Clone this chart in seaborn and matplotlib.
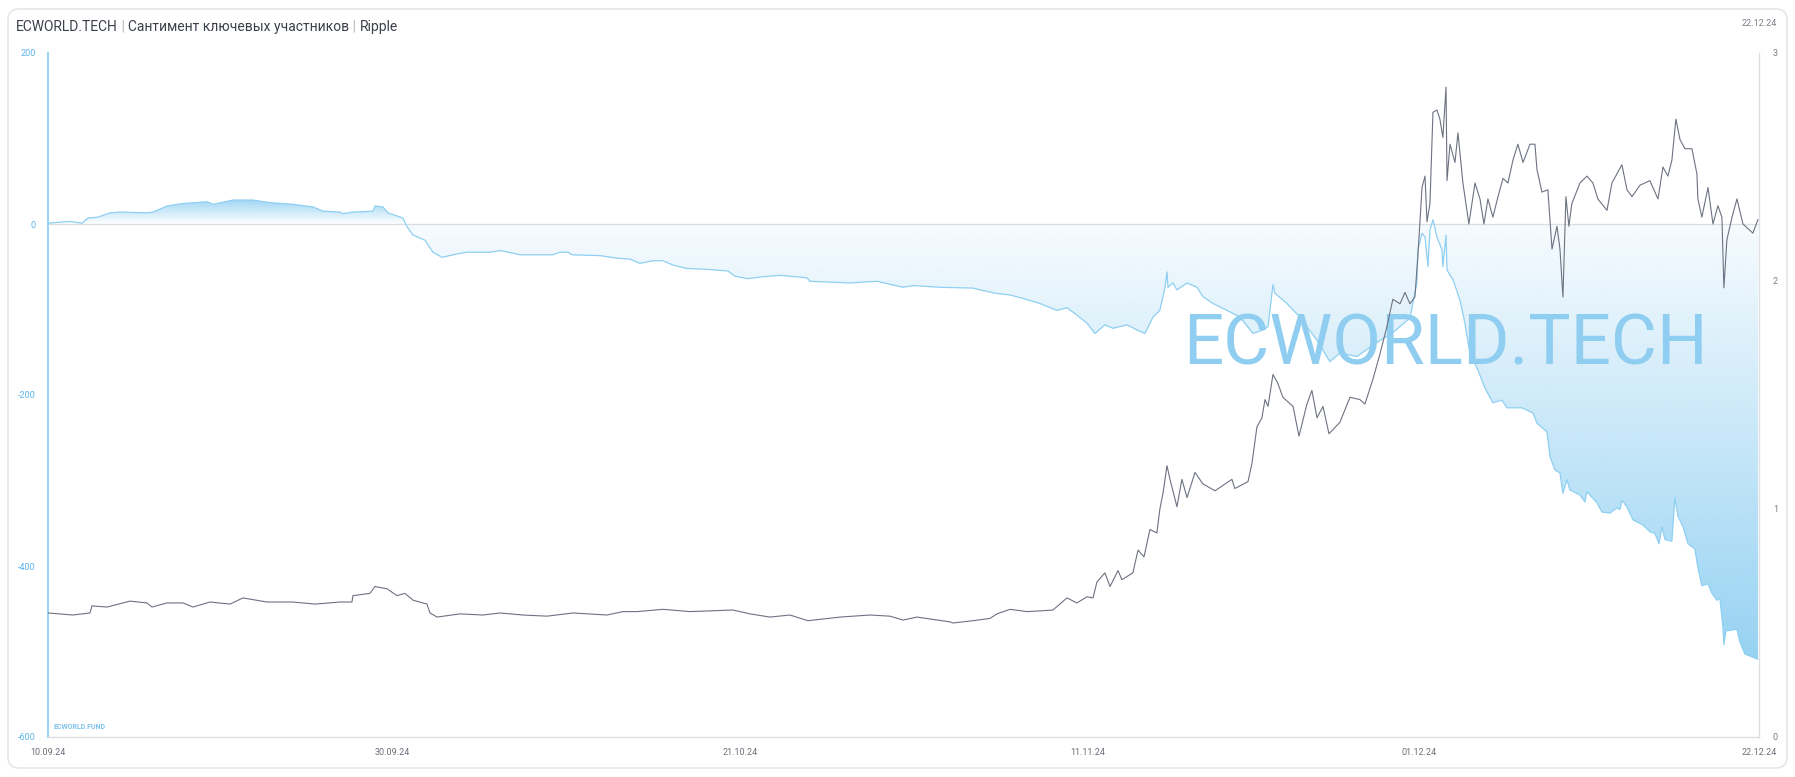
import numpy as np
import pandas as pd
import matplotlib
matplotlib.use('Agg')
import matplotlib.pyplot as plt
import matplotlib.dates as mdates
from matplotlib.patches import FancyBboxPatch
from matplotlib.transforms import IdentityTransform
import seaborn as sns

# days since 10.09.24 00:00 and the sentiment value
sent_days = [-0.79, 0.54, 1.27, 1.63, 2.23, 2.96, 3.56, 5.19, 5.56, 6.40, 7.37, 8.82, 9.18,
             10.39, 11.59, 12.62, 14.01, 15.22, 15.82, 16.85, 17.03, 17.63, 18.84, 18.96,
             19.44, 19.75, 20.65, 20.89, 21.26, 21.98, 22.46, 23.01, 23.91, 24.52, 25.91,
             26.51, 27.72, 29.71, 30.13, 30.62, 30.86, 32.55, 33.57, 34.36, 34.96, 35.75,
             36.35, 36.96, 37.80, 39.01, 40.28, 40.70, 41.49, 42.21, 43.42, 45.05, 45.23,
             47.64, 49.28, 50.85, 51.45, 53.08, 55.07, 56.40, 57.31, 58.09, 59.12, 60.14,
             60.75, 61.11, 61.96, 62.44, 63.04, 63.53, 64.37, 64.98, 65.46, 65.94, 66.36,
             66.67, 66.79, 66.85, 67.15, 67.39, 68.00, 68.60, 68.96, 69.57, 70.41, 71.20,
             71.98, 72.58, 72.89, 73.19, 73.31, 74.03, 74.82, 75.85, 76.63, 77.23, 78.26,
             79.35, 80.56, 81.46, 81.88, 81.94, 82.19, 82.37, 82.55, 82.67, 82.85, 83.09,
             83.39, 83.45, 83.64, 83.70, 84.06, 84.48, 84.78, 85.08, 85.57, 85.99, 86.47,
             87.02, 87.32, 88.22, 88.89, 89.13, 89.73, 89.92, 90.22, 90.52, 90.70, 90.94,
             91.12, 91.73, 92.03, 92.15, 92.75, 93.06, 93.54, 93.96, 94.14, 94.26, 94.57,
             94.93, 95.53, 95.95, 96.26, 96.50, 96.68, 96.86, 97.28, 97.46, 97.65, 97.95,
             98.25, 98.67, 98.85, 99.09, 99.46, 99.70, 100.00, 100.18, 100.36, 100.42,
             100.54, 101.21, 101.39, 101.69, 102.48]
sent_vals = [1, 3, 1, 7, 8, 13, 14, 13, 14, 21, 24, 26, 23,
             28, 28, 25, 23, 20, 15, 14, 12, 14, 15, 21,
             20, 13, 7, -3, -13, -19, -33, -39, -35, -33, -33,
             -31, -36, -36, -33, -33, -36, -37, -40, -41, -46, -43,
             -43, -48, -52, -53, -55, -61, -64, -62, -60, -63, -67,
             -69, -67, -74, -72, -74, -75, -81, -83, -87, -93, -101,
             -98, -103, -116, -128, -118, -122, -118, -124, -128, -109, -101,
             -74, -56, -74, -69, -77, -69, -74, -85, -93, -101, -109,
             -128, -124, -120, -71, -81, -93, -109, -136, -161, -151, -155,
             -140, -125, -110, -69, -30, -11, -15, -50, -7, 5, -15,
             -30, -50, -13, -54, -65, -89, -116, -151, -171, -192, -209,
             -206, -215, -215, -221, -233, -243, -272, -288, -291, -315, -299,
             -311, -317, -325, -313, -326, -337, -338, -332, -334, -323, -331,
             -346, -352, -360, -362, -374, -354, -369, -371, -320, -342, -354,
             -374, -380, -402, -423, -421, -432, -440, -438, -471, -492,
             -476, -474, -489, -503, -509]

# days since 10.09.24 00:00 and XRP price (right axis)
price_days = [-0.79, 0.72, 1.75, 1.87, 2.78, 4.17, 5.19, 5.50, 6.40, 7.37, 7.97, 9.00, 10.21,
              10.99, 12.44, 14.01, 15.34, 16.85, 17.57, 17.63, 18.66, 18.96, 19.69, 20.29,
              20.77, 21.26, 22.10, 22.28, 22.71, 24.09, 25.48, 26.51, 27.90, 29.35, 30.92,
              32.97, 33.94, 34.78, 36.35, 37.98, 40.58, 41.61, 42.81, 44.02, 45.11, 47.04,
              48.85, 50.06, 50.85, 51.69, 53.68, 53.86, 55.07, 56.10, 56.52, 57.31, 58.33,
              59.12, 59.90, 60.75, 61.35, 61.96, 62.32, 62.56, 63.04, 63.35, 63.83, 64.07,
              64.73, 65.04, 65.40, 65.76, 66.18, 66.36, 66.55, 66.79, 66.97, 67.39, 67.69,
              68.00, 68.48, 68.96, 69.69, 70.71, 70.89, 71.68, 71.92, 72.22, 72.52, 72.71,
              72.89, 73.19, 73.49, 73.79, 74.40, 74.76, 75.24, 75.54, 75.85, 76.21, 76.57,
              77.23, 77.84, 78.44, 78.74, 79.23, 79.65, 80.07, 80.43, 80.86, 81.16, 81.46,
              81.76, 81.94, 82.19, 82.37, 82.49, 82.67, 82.85, 83.09, 83.27, 83.45, 83.64,
              83.70, 83.88, 84.18, 84.36, 84.66, 85.02, 85.39, 85.69, 85.93, 86.17, 86.47,
              86.78, 87.08, 87.38, 87.68, 87.98, 88.29, 88.71, 89.01, 89.13, 89.43, 89.79,
              90.04, 90.34, 90.52, 90.70, 90.88, 91.06, 91.24, 91.73, 92.15, 92.51, 92.81,
              93.36, 93.66, 94.26, 94.57, 94.87, 95.35, 95.95, 96.44, 96.74, 97.04, 97.28,
              97.52, 97.77, 98.07, 98.49, 98.79, 98.85, 99.09, 99.46, 99.76, 100.06, 100.30,
              100.42, 100.60, 100.91, 101.21, 101.57, 102.17, 102.48]
price_vals = [0.544, 0.535, 0.544, 0.575, 0.57, 0.596, 0.588, 0.57, 0.588, 0.588, 0.57, 0.592, 0.583,
              0.61, 0.592, 0.592, 0.583, 0.592, 0.592, 0.62, 0.63, 0.66, 0.65, 0.62,
              0.63, 0.60, 0.583, 0.544, 0.526, 0.54, 0.535, 0.544, 0.535, 0.53, 0.544,
              0.535, 0.55, 0.55, 0.56, 0.55, 0.557, 0.54, 0.526, 0.535, 0.51, 0.526,
              0.535, 0.53, 0.513, 0.526, 0.505, 0.50, 0.51, 0.52, 0.54, 0.56, 0.55,
              0.553, 0.557, 0.61, 0.588, 0.615, 0.61, 0.68, 0.72, 0.66, 0.73, 0.69,
              0.72, 0.82, 0.79, 0.91, 0.895, 1.0, 1.07, 1.19, 1.13, 1.01, 1.13,
              1.05, 1.16, 1.11, 1.08, 1.13, 1.09, 1.12, 1.20, 1.36, 1.40, 1.48,
              1.45, 1.59, 1.55, 1.49, 1.45, 1.32, 1.46, 1.52, 1.40, 1.45, 1.33,
              1.38, 1.49, 1.48, 1.46, 1.57, 1.68, 1.80, 1.92, 1.90, 1.95, 1.90,
              1.93, 2.11, 2.41, 2.46, 2.26, 2.34, 2.74, 2.75, 2.71, 2.63, 2.85,
              2.44, 2.60, 2.52, 2.65, 2.43, 2.25, 2.43, 2.36, 2.25, 2.36, 2.28,
              2.37, 2.45, 2.43, 2.53, 2.60, 2.52, 2.60, 2.60, 2.49, 2.39, 2.40,
              2.14, 2.24, 2.14, 1.93, 2.37, 2.24, 2.34, 2.43, 2.46, 2.43, 2.36,
              2.31, 2.43, 2.51, 2.40, 2.37, 2.42, 2.44, 2.36, 2.50, 2.46, 2.53,
              2.71, 2.62, 2.58, 2.58, 2.47, 2.36, 2.28, 2.41, 2.25, 2.33, 2.28,
              1.97, 2.18, 2.28, 2.36, 2.25, 2.21, 2.27]

date_ticks = ['2024-09-10', '2024-09-30', '2024-10-21', '2024-11-11', '2024-12-01', '2024-12-22']
date_labels = ['10.09.24', '30.09.24', '21.10.24', '11.11.24', '01.12.24', '22.12.24']
left_ticks = [-600, -400, -200, 0, 200]
right_ticks = [0, 1, 2, 3]

title_parts = ['ECWORLD.TECH', ' | ', 'Сантимент ключевых участников', ' | ', 'Ripple']

sns.set_style('white')
plt.rcParams['font.family'] = ['Roboto', 'DejaVu Sans']

W, H = 1795, 777
base = pd.Timestamp('2024-09-10')
sent_x = base + pd.to_timedelta(sent_days, unit='D')
price_x = base + pd.to_timedelta(price_days, unit='D')
x_start = base + pd.to_timedelta(-0.785, unit='D')
x_end = base + pd.to_timedelta(102.54, unit='D')

fig = plt.figure(figsize=(W / 100, H / 100), dpi=100)
fig.patch.set_facecolor('white')

# card frame
card = FancyBboxPatch((8, 9), 1779, 759, boxstyle='round,pad=0,rounding_size=11',
                      transform=IdentityTransform(), facecolor='white',
                      edgecolor='#e4e6ea', linewidth=1.2, zorder=-5)
fig.patches.append(card)

ax = fig.add_axes([48 / W, (H - 737) / H, (1759 - 48) / W, (737 - 53) / H])
ax.set_facecolor('none')
blue_line = '#8ecff2'

sns.lineplot(x=sent_x, y=sent_vals, ax=ax, color=blue_line, linewidth=0.9,
             estimator=None, zorder=3)
poly = ax.fill_between(sent_x, sent_vals, 0, color='none', linewidth=0)

# vertical gradient clipped by the area
yy = np.linspace(200, -600, 800)
alpha = np.where(yy >= 0, np.clip(yy / 30, 0, 1) * 0.88,
                 0.08 + 0.86 * np.clip(-yy, 0, 515) / 515)
rgba = np.zeros((len(yy), 1, 4))
rgba[..., 0] = 0x8f / 255
rgba[..., 1] = 0xcf / 255
rgba[..., 2] = 0xf2 / 255
rgba[..., 3] = alpha[:, None]
x0n, x1n = mdates.date2num(x_start), mdates.date2num(x_end)
im = ax.imshow(rgba, extent=[x0n, x1n, -600, 200], aspect='auto',
               interpolation='bilinear', zorder=1)
im.set_clip_path(poly.get_paths()[0], transform=ax.transData)

ax.axhline(0, color='#dadde2', linewidth=0.9, zorder=2)
ax.set_xlim(x_start, x_end)
ax.set_ylim(-600, 200)
ax.set_yticks(left_ticks)
ax.set_yticklabels([str(v) for v in left_ticks])
ax.tick_params(axis='y', length=0, pad=9, labelsize=6.5, labelcolor='#5cb6ea')
tick_pos = [x_start] + [pd.Timestamp(d) for d in date_ticks[1:-1]] + [x_end]
ax.set_xticks(tick_pos)
ax.set_xticklabels(date_labels)
ax.tick_params(axis='x', length=0, pad=8, labelsize=6.5, labelcolor='#6b6f78')
ax.set_xlabel('')
ax.set_ylabel('')
ax.spines['top'].set_visible(False)
ax.spines['right'].set_visible(False)
ax.spines['left'].set_color('#8fd0f5')
ax.spines['left'].set_linewidth(1.3)
ax.spines['bottom'].set_color('#dcdfe3')
ax.spines['bottom'].set_linewidth(1.0)

# watermark
ax.text(0.8165, 0.545, 'ECWORLD.TECH', transform=ax.transAxes, ha='center', va='baseline',
        fontsize=51, color='#8fcdf1', zorder=4)
ax.text(0.003, 0.015, 'ECWORLD.FUND', transform=ax.transAxes, ha='left', va='center',
        fontsize=5, color='#7cc3ee', fontweight='bold', zorder=4)

ax2 = ax.twinx()
sns.lineplot(x=price_x, y=price_vals, ax=ax2, color='#6d7282', linewidth=0.8,
             estimator=None)
ax2.set_ylim(0, 3)
ax2.set_xlim(x_start, x_end)
ax2.set_yticks(right_ticks)
ax2.set_yticklabels([str(v) for v in right_ticks])
ax2.tick_params(axis='y', length=0, pad=10, labelsize=6.5, labelcolor='#7a7e86')
ax2.set_ylabel('')
for s in ['top', 'left', 'bottom']:
    ax2.spines[s].set_visible(False)
ax2.spines['right'].set_color('#dcdfe3')
ax2.spines['right'].set_linewidth(1.0)

# title with lighter separators
renderer = fig.canvas.get_renderer()
tx = 16
for part in title_parts:
    col = '#b0b4ba' if part.strip() == '|' else '#3b404b'
    t = fig.text(tx / W, (H - 27) / H, part, fontsize=10, color=col, va='center', ha='left')
    tx += t.get_window_extent(renderer=renderer).width

fig.text(1777 / W, (H - 24) / H, '22.12.24', fontsize=6.5, color='#7a7e86',
         ha='right', va='center')

plt.savefig('out.png', dpi=100)
plt.close()
